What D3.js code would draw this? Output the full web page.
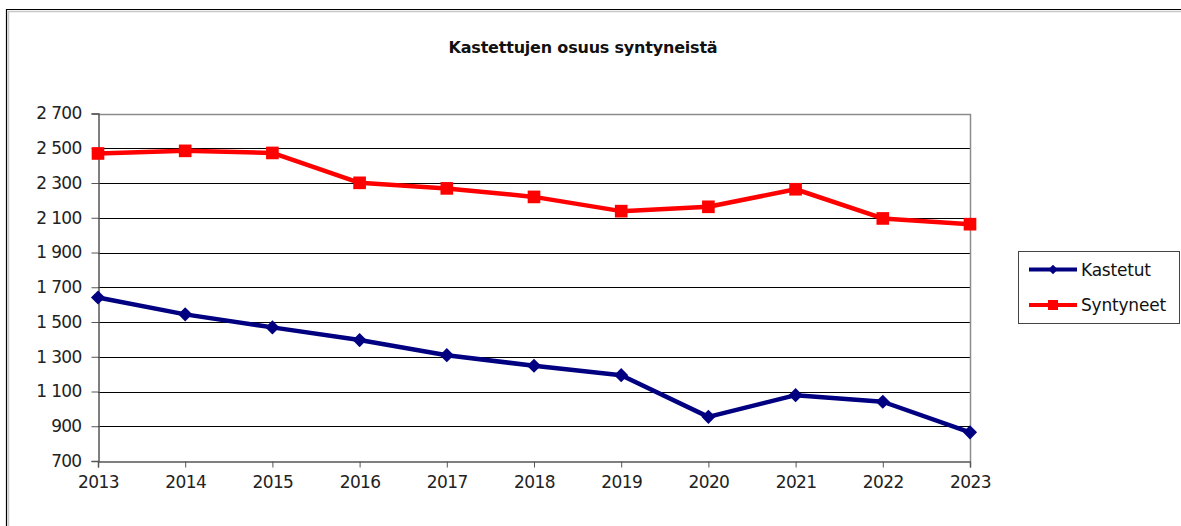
<!DOCTYPE html>
<html>
<head>
<meta charset="utf-8">
<script src="https://cdn.jsdelivr.net/npm/d3@7"></script>
<style>
  body { margin: 0; background: #fff; }
  text { font-family: "DejaVu Sans", Verdana, sans-serif; }
</style>
</head>
<body>
<script>
// data
var years = [2013, 2014, 2015, 2016, 2017, 2018, 2019, 2020, 2021, 2022, 2023];
var kastetut = [1641, 1544, 1469, 1396, 1309, 1248, 1194, 954, 1079, 1041, 865];
var syntyneet = [2470, 2485, 2473, 2301, 2269, 2220, 2138, 2163, 2264, 2096, 2063];
var yTicks = [700, 900, 1100, 1300, 1500, 1700, 1900, 2100, 2300, 2500, 2700];
var seriesNames = ['Kastetut', 'Syntyneet'];

var W = 1181, H = 526;
var plot = { left: 98, right: 970, top: 113.5, bottom: 461 };

var svg = d3.select('body').append('svg')
  .attr('width', W)
  .attr('height', H);

// outer chart border (only top and left visible, rest is cropped)
svg.append('path')
  .attr('d', 'M8.5,' + H + 'V11.5H' + W)
  .attr('fill', 'none')
  .attr('stroke', '#c8c8c8')
  .attr('stroke-width', 1.5);
svg.append('path')
  .attr('d', 'M6.5,' + H + 'V9.5H' + W)
  .attr('fill', 'none')
  .attr('stroke', '#000')
  .attr('stroke-width', 1.2);

// title
svg.append('text')
  .attr('x', 583)
  .attr('y', 53)
  .attr('text-anchor', 'middle')
  .attr('font-size', '16px')
  .attr('font-weight', 'bold')
  .attr('fill', '#111')
  .attr('letter-spacing', '-0.2px')
  .text('Kastettujen osuus syntyneistä');

var x = d3.scalePoint()
  .domain(years)
  .range([plot.left, plot.right]);

var y = d3.scaleLinear()
  .domain([700, 2700])
  .range([plot.bottom, plot.top]);

var fi = d3.formatLocale({ decimal: ',', thousands: ' ', grouping: [3], currency: ['', '€'] });
var fmt = fi.format(',d');

// horizontal gridlines
svg.append('g')
  .selectAll('line')
  .data(yTicks.filter(function(d) { return d > 700 && d < 2700; }))
  .join('line')
  .attr('x1', plot.left)
  .attr('x2', plot.right)
  .attr('y1', function(d) { return Math.round(y(d)) + 0.5; })
  .attr('y2', function(d) { return Math.round(y(d)) + 0.5; })
  .attr('stroke', '#000')
  .attr('stroke-width', 1);

// plot area border top and right (grey)
svg.append('path')
  .attr('d', 'M' + plot.left + ',' + (Math.round(plot.top) + 0.5) + 'H' + (plot.right + 0.5) + 'V' + plot.bottom)
  .attr('fill', 'none')
  .attr('stroke', '#8c8c8c')
  .attr('stroke-width', 1.5);

// y axis
var yAxis = svg.append('g')
  .attr('transform', 'translate(' + (plot.left + 0.5) + ',0)')
  .call(d3.axisLeft(y).tickValues(yTicks).tickFormat(fmt).tickSize(7).tickPadding(10));
yAxis.select('.domain').attr('stroke', '#555').attr('stroke-width', 1.5);
yAxis.selectAll('.tick line').attr('stroke', '#555');
yAxis.selectAll('.tick text')
  .attr('font-size', '17px')
  .attr('font-family', '"DejaVu Sans", Verdana, sans-serif')
  .attr('fill', '#222')
  .attr('letter-spacing', '-0.7px');

// x axis
var xAxis = svg.append('g')
  .attr('transform', 'translate(0,' + (plot.bottom + 0.5) + ')')
  .call(d3.axisBottom(x).tickSize(6).tickPadding(8));
xAxis.select('.domain').attr('stroke', '#555').attr('stroke-width', 1.5);
xAxis.selectAll('.tick line').attr('stroke', '#555');
xAxis.selectAll('.tick text')
  .attr('font-size', '17px')
  .attr('font-family', '"DejaVu Sans", Verdana, sans-serif')
  .attr('fill', '#222')
  .attr('letter-spacing', '-0.6px');

var line = d3.line()
  .x(function(d, i) { return x(years[i]); })
  .y(function(d) { return y(d); });

var diamond = d3.symbol().type(d3.symbolSquare).size(100);
var square = d3.symbol().type(d3.symbolSquare).size(160);

function drawSeries(vals, color, sym, rot) {
  var g = svg.append('g');
  g.append('path')
    .datum(vals)
    .attr('d', line)
    .attr('fill', 'none')
    .attr('stroke', color)
    .attr('stroke-width', 4.5)
    .attr('stroke-linejoin', 'round');
  g.selectAll('path.mark')
    .data(vals)
    .join('path')
    .attr('class', 'mark')
    .attr('d', sym)
    .attr('transform', function(d, i) {
      return 'translate(' + x(years[i]) + ',' + y(d) + ') rotate(' + rot + ')';
    })
    .attr('fill', color);
}

drawSeries(syntyneet, '#ff0000', square, 0);
drawSeries(kastetut, '#000080', diamond, 45);

// legend
var legend = svg.append('g');
legend.append('rect')
  .attr('x', 1018.5)
  .attr('y', 251.5)
  .attr('width', 161)
  .attr('height', 72)
  .attr('fill', '#fff')
  .attr('stroke', '#444')
  .attr('stroke-width', 1);

var legColors = ['#000080', '#ff0000'];
var legY = [269.5, 305];
seriesNames.forEach(function(name, i) {
  legend.append('line')
    .attr('x1', 1029).attr('x2', 1077)
    .attr('y1', legY[i]).attr('y2', legY[i])
    .attr('stroke', legColors[i])
    .attr('stroke-width', 4);
  legend.append('path')
    .attr('d', i === 0 ? d3.symbol().type(d3.symbolSquare).size(45)() : d3.symbol().type(d3.symbolSquare).size(100)())
    .attr('transform', 'translate(1053,' + legY[i] + ') rotate(' + (i === 0 ? 45 : 0) + ')')
    .attr('fill', legColors[i]);
  legend.append('text')
    .attr('x', 1081)
    .attr('y', legY[i] + 6)
    .attr('font-size', '17px')
    .attr('fill', '#111')
    .attr('letter-spacing', '-0.2px')
    .text(name);
});
</script>
</body>
</html>
